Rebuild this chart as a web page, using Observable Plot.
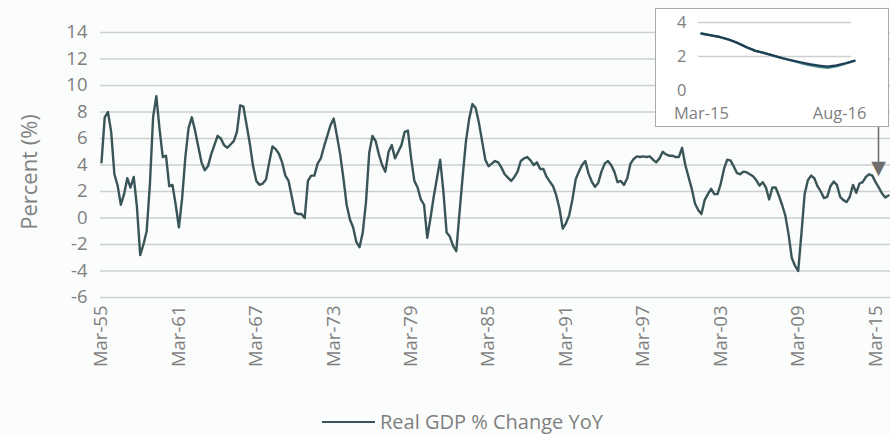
<!DOCTYPE html>
<html>
<head>
<meta charset="utf-8">
<script src="https://cdn.jsdelivr.net/npm/d3@7"></script>
<script src="https://cdn.jsdelivr.net/npm/@observablehq/plot@0.6"></script>
<style>
  html, body { margin: 0; padding: 0; background: #fbfcfc; }
  #wrap { position: relative; width: 890px; height: 434px; overflow: hidden; font-family: "Open Sans", Lato, sans-serif; color: #7f7f7f; }
  #main { position: absolute; left: 0; top: 0; }
  #ytitle { position: absolute; left: 28px; top: 172px; transform: translate(-50%, -50%) rotate(-90deg); font-size: 22px; white-space: nowrap; color: #808080; }
  #inset { position: absolute; left: 655px; top: 8px; width: 232px; height: 117px; border: 1.5px solid #a9a9a9; background: #ffffff; }
  #legend { position: absolute; left: 322px; top: 410px; height: 24px; line-height: 24px; display: flex; align-items: center; font-size: 20px; color: #7f7f7f; white-space: nowrap; }
  #legend .sw { display: inline-block; width: 53px; height: 2.5px; background: #3a5558; margin-right: 5px; }
</style>
</head>
<body>
<div id="wrap">
  <div id="main"></div>
  <div id="ytitle">Percent (%)</div>
  <div id="inset"></div>
  <div id="legend"><span class="sw"></span><span>Real GDP % Change YoY</span></div>
</div>
<script>
// Quarterly real GDP % change YoY, Mar-55 .. Mar-16
const gdpYoY = [
  4.2, 7.6, 8.0, 6.5, 3.3, 2.45, 1.0, 1.8, 3.0, 2.3, 3.1, 0.8,
  -2.8, -2.0, -1.0, 2.5, 7.6, 9.2, 6.7, 4.6, 4.7, 2.4, 2.5, 1.0,
  -0.7, 1.5, 4.6, 6.8, 7.6, 6.6, 5.4, 4.2, 3.6, 3.9, 4.8, 5.5,
  6.2, 6.0, 5.5, 5.3, 5.55, 5.8, 6.5, 8.5, 8.4, 7.0, 5.6, 3.9,
  2.8, 2.5, 2.6, 2.9, 4.2, 5.4, 5.2, 4.85, 4.2, 3.2, 2.8, 1.6,
  0.4, 0.3, 0.3, 0.0, 2.8, 3.2, 3.2, 4.1, 4.5, 5.4, 6.2, 7.0,
  7.5, 6.2, 4.8, 3.0, 1.0, -0.1, -0.7, -1.8, -2.2, -1.1, 1.2, 4.9,
  6.2, 5.8, 4.8, 4.0, 3.5, 5.0, 5.5, 4.5, 5.0, 5.5, 6.5, 6.6,
  4.5, 2.8, 2.3, 1.4, 1.0, -1.5, 0.0, 1.6, 3.0, 4.4, 2.0, -1.1,
  -1.4, -2.1, -2.5, 0.4, 3.2, 5.8, 7.5, 8.6, 8.3, 7.2, 5.8, 4.4,
  3.9, 4.1, 4.3, 4.2, 3.8, 3.3, 3.05, 2.8, 3.1, 3.5, 4.3, 4.5,
  4.6, 4.35, 4.0, 4.2, 3.7, 3.7, 3.1, 2.75, 2.4, 1.7, 0.7, -0.8,
  -0.4, 0.2, 1.4, 2.9, 3.5, 4.0, 4.3, 3.35, 2.75, 2.35, 2.65, 3.5,
  4.1, 4.3, 4.0, 3.5, 2.7, 2.8, 2.5, 3.0, 4.1, 4.45, 4.65, 4.6,
  4.65, 4.6, 4.65, 4.4, 4.2, 4.5, 5.0, 4.8, 4.7, 4.7, 4.6, 4.6,
  5.3, 4.0, 3.1, 2.2, 1.1, 0.6, 0.3, 1.35, 1.8, 2.2, 1.8, 1.8,
  2.6, 3.7, 4.4, 4.35, 3.9, 3.4, 3.3, 3.5, 3.45, 3.3, 3.15, 2.85,
  2.45, 2.7, 2.3, 1.4, 2.3, 2.3, 1.7, 1.0, 0.2, -1.2, -3.0, -3.6,
  -4.0, -1.2, 1.8, 2.85, 3.2, 3.0, 2.4, 2.0, 1.5, 1.6, 2.4, 2.75,
  2.5, 1.6, 1.35, 1.2, 1.6, 2.5, 1.9, 2.6, 2.7, 3.1, 3.3, 3.2,
  2.7, 2.3, 1.85, 1.55, 1.7
];
const firstYear = 1955;
const quarterMonths = ["Mar", "Jun", "Sep", "Dec"];
const quarterLabels = gdpYoY.map((_, i) =>
  quarterMonths[i % 4] + "-" + String((firstYear + Math.floor(i / 4)) % 100).padStart(2, "0"));
const xTickLabels = ["Mar-55", "Mar-61", "Mar-67", "Mar-73", "Mar-79", "Mar-85", "Mar-91", "Mar-97", "Mar-03", "Mar-09", "Mar-15"];
const yTicks = [-6, -4, -2, 0, 2, 4, 6, 8, 10, 12, 14];

// Inset: monthly, Mar-15 .. Aug-16
const insetMonths = ["Mar-15","Apr-15","May-15","Jun-15","Jul-15","Aug-15","Sep-15","Oct-15","Nov-15","Dec-15","Jan-16","Feb-16","Mar-16","Apr-16","May-16","Jun-16","Jul-16","Aug-16"];
const insetSeriesA = [3.35, 3.25, 3.15, 3.0, 2.8, 2.55, 2.33, 2.2, 2.05, 1.9, 1.78, 1.66, 1.55, 1.47, 1.4, 1.48, 1.6, 1.75];
const insetSeriesB = [3.35, 3.25, 3.15, 3.0, 2.8, 2.55, 2.33, 2.2, 2.05, 1.9, 1.76, 1.62, 1.5, 1.4, 1.34, 1.42, 1.58, 1.75];
const insetYTicks = [0, 2, 4];
const insetXLabels = ["Mar-15", "Aug-16"];

// Arrow annotation pointing at the latest quarters
const arrowAt = 240.9, arrowFrom = 6.9, arrowShaftTo = 4.1, arrowHeadAt = 3.8;

const rows = gdpYoY.map((v, i) => ({i, label: quarterLabels[i], v}));
const tickIdx = xTickLabels.map(l => quarterLabels.indexOf(l));

const lineColor = "#3a5558";
const gridColor = "#cdd0d0";
const font = "'Open Sans', Lato, sans-serif";

const main = Plot.plot({
  width: 890,
  height: 400,
  marginTop: 32,
  marginBottom: 103,
  marginLeft: 100,
  marginRight: 0,
  style: {fontFamily: font, fontSize: "18.5px", color: "#7f7f7f", background: "transparent", overflow: "visible"},
  x: {domain: [0, gdpYoY.length - 1], range: [101, 888], ticks: tickIdx, tickFormat: i => quarterLabels[i], tickRotate: -90, tickSize: 0, tickPadding: 8, label: null},
  y: {domain: [-6, 14], ticks: yTicks, tickFormat: d => String(d), tickSize: 0, tickPadding: 13, label: null},
  marks: [
    Plot.ruleY(yTicks, {stroke: gridColor, strokeWidth: 1.4}),
    Plot.line(rows, {x: "i", y: "v", stroke: lineColor, strokeWidth: 2.4, strokeLinejoin: "round"}),
    Plot.link([0], {x1: () => arrowAt, x2: () => arrowAt, y1: () => arrowFrom, y2: () => arrowShaftTo, stroke: "#6f6f6f", strokeWidth: 1.6}),
    Plot.text([0], {x: () => arrowAt, y: () => arrowHeadAt, text: () => "▼", fill: "#6f6f6f", fontSize: 19, fontFamily: "DejaVu Sans"})
  ]
});
document.getElementById("main").appendChild(main);

const insetA = insetSeriesA.map((v, k) => ({k, v}));
const insetB = insetSeriesB.map((v, k) => ({k, v}));
const inset = Plot.plot({
  width: 232,
  height: 117,
  marginTop: 13,
  marginBottom: 36,
  marginLeft: 42,
  marginRight: 37,
  style: {fontFamily: font, fontSize: "16.5px", color: "#7f7f7f", background: "transparent", overflow: "visible"},
  x: {domain: [0, insetMonths.length - 1], range: [45, 198], axis: null},
  y: {domain: [0, 4], ticks: insetYTicks, tickFormat: d => String(d), tickSize: 0, tickPadding: 12, label: null},
  marks: [
    Plot.ruleY(insetYTicks.filter(d => d > 0), {stroke: gridColor, strokeWidth: 1.3}),
    Plot.line(insetB, {x: "k", y: "v", stroke: "#4e8d8f", strokeWidth: 2.4}),
    Plot.line(insetA, {x: "k", y: "v", stroke: "#1f3d52", strokeWidth: 2.2}),
    Plot.text([insetXLabels[0]], {x: () => insetMonths.indexOf(insetXLabels[0]), y: () => -1.35, text: d => d, fill: "#7f7f7f", fontSize: 16.5}),
    Plot.text([insetXLabels[1]], {x: () => insetMonths.indexOf(insetXLabels[1]), y: () => -1.35, text: d => d, fill: "#7f7f7f", fontSize: 16.5, textAnchor: "end", dx: 12})
  ]
});
document.getElementById("inset").appendChild(inset);
</script>
</body>
</html>
